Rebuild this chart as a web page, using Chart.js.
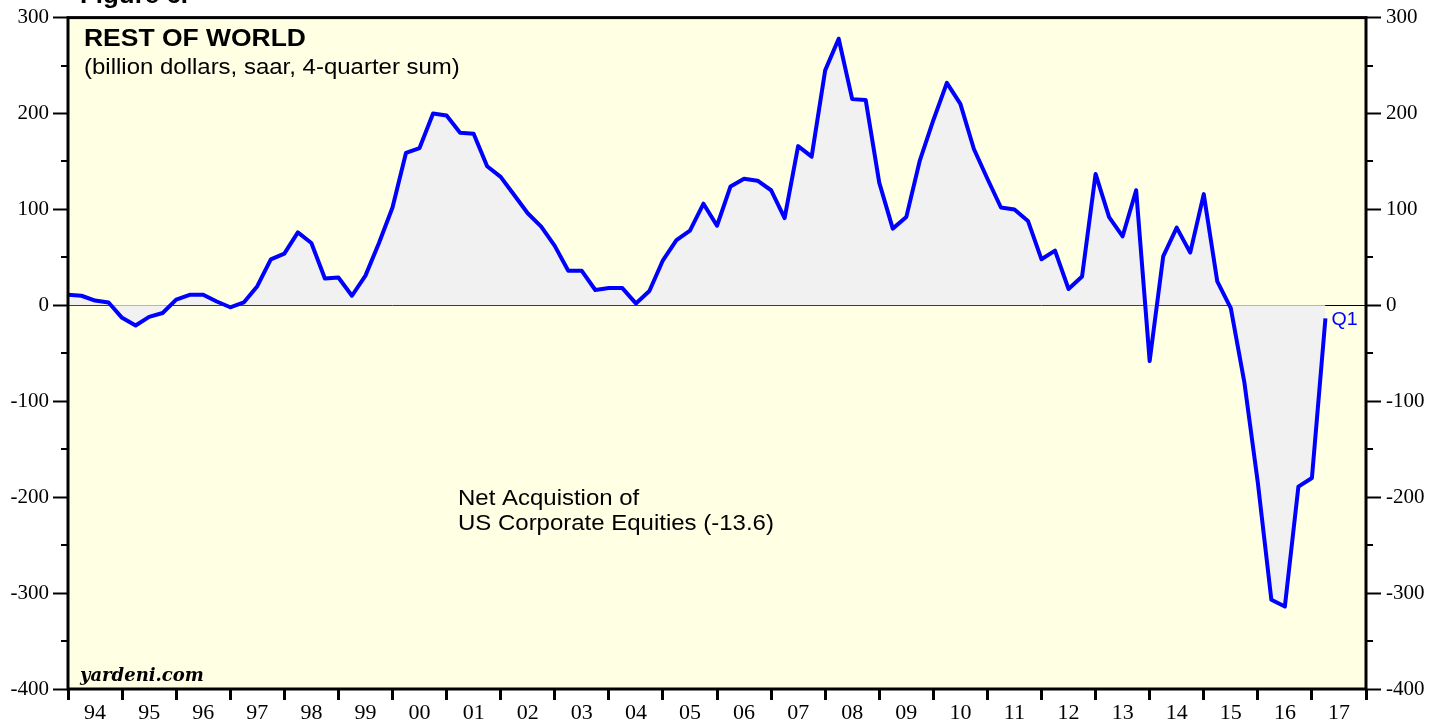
<!DOCTYPE html>
<html>
<head>
<meta charset="utf-8">
<script src="https://cdn.jsdelivr.net/npm/chart.js@4/dist/chart.umd.min.js"></script>
<style>
  body { margin: 0; background: #fff; }
  #wrap { width: 1442px; height: 721px; }
</style>
</head>
<body>
<div id="wrap"><canvas id="chart-row" width="1442" height="721"></canvas></div>
<script>
// quarterly, 4-quarter sum, billion $ saar; first value is 93Q4, last is 17Q1
const row_values = [
    11,
    10, 5, 3, -13,
    -21, -12, -8, 6,
    11, 11, 4, -2,
    3, 20, 48, 54,
    76, 65, 28, 29,
    10, 31, 65, 102,
    159, 164, 200, 198,
    180, 179, 145, 134,
    115, 96, 82, 62,
    36, 36, 16, 18,
    18, 2, 15, 47,
    68, 78, 106, 83,
    124, 132, 130, 120,
    91, 166, 155, 245,
    278, 215, 214, 128,
    80, 92, 151, 193,
    232, 210, 163, 132,
    102, 100, 88, 48,
    57, 17, 30, 137,
    92, 72, 120, -58,
    51, 81, 55, 116,
    25, -3, -80, -185,
    -307, -314, -189, -180,
    -13.6
]
const first_year = 1994
const year_labels = ['94', '95', '96', '97', '98', '99', '00', '01', '02', '03', '04', '05',
    '06', '07', '08', '09', '10', '11', '12', '13', '14', '15', '16', '17']
const y_min = -400
const y_max = 300

const points = row_values.map((v, i) => ({ x: first_year + i / 4, y: v }))

function wideText(ctx, text, x, y, font, color, sx) {
    ctx.save()
    ctx.font = font
    ctx.fillStyle = color
    ctx.textBaseline = 'alphabetic'
    ctx.textAlign = 'left'
    ctx.translate(x, y)
    ctx.scale(sx, 1)
    ctx.fillText(text, 0, 0)
    ctx.restore()
}

const frame_plugin = {
    id: 'frame',
    beforeDraw(chart) {
        const a = chart.chartArea
        const ctx = chart.ctx
        ctx.save()
        ctx.fillStyle = '#FFFFE4'
        ctx.fillRect(a.left, a.top, a.right - a.left, a.bottom - a.top)
        ctx.restore()
    },
    afterDraw(chart) {
        const a = chart.chartArea
        const ctx = chart.ctx
        const y = chart.scales.y
        ctx.save()
        ctx.strokeStyle = '#000'
        ctx.lineWidth = 3
        ctx.strokeRect(a.left, a.top, a.right - a.left, a.bottom - a.top)
        // minor ticks every 50
        ctx.lineWidth = 2
        ctx.beginPath()
        for (let v = y_min + 50; v < y_max; v += 100) {
            const py = Math.round(y.getPixelForValue(v))
            ctx.moveTo(a.left - 7, py)
            ctx.lineTo(a.left, py)
            ctx.moveTo(a.right, py)
            ctx.lineTo(a.right + 7, py)
        }
        ctx.stroke()
        ctx.restore()

        wideText(ctx, 'Figure 6.', 80, 3, 'bold 24px "Liberation Sans"', '#000', 1.08)
        wideText(ctx, 'REST OF WORLD', 84, 46, 'bold 24.5px "Liberation Sans"', '#000', 1.08)
        wideText(ctx, '(billion dollars, saar, 4-quarter sum)', 84, 74, '22px "Liberation Sans"', '#000', 1.09)
        wideText(ctx, 'Net Acquistion of', 458, 505, '22px "Liberation Sans"', '#000', 1.09)
        wideText(ctx, 'US Corporate Equities (-13.6)', 458, 530, '22px "Liberation Sans"', '#000', 1.09)
        wideText(ctx, 'yardeni.com', 80, 681, 'bold italic 18px "DejaVu Serif"', '#000', 1.0)

        const last = chart.getDatasetMeta(0).data[row_values.length - 1]
        wideText(ctx, 'Q1', last.x + 6, 325, '18.5px "Liberation Sans"', '#0000FF', 1.06)
    }
}

const tick_font = { family: '"Liberation Serif"', size: 21 }

const ctx_row = document.getElementById('chart-row')
const chart_row = new Chart(ctx_row, {
    type: 'line',
    data: {
        datasets: [{
            label: 'Net Acquisition of US Corporate Equities',
            data: points,
            borderColor: '#0000FF',
            borderWidth: 4,
            borderJoinStyle: 'round',
            backgroundColor: '#F1F1F1',
            fill: { target: { value: 0 } },
            pointRadius: 0,
            tension: 0
        }]
    },
    options: {
        responsive: false,
        animation: false,
        layout: { padding: { top: 17, left: 0, right: 0, bottom: 0 } },
        plugins: {
            legend: { display: false },
            tooltip: { enabled: false },
            title: { display: false }
        },
        scales: {
            x: {
                type: 'linear',
                min: first_year,
                max: first_year + year_labels.length,
                afterBuildTicks: (scale) => {
                    const t = []
                    for (let i = 0; i <= year_labels.length; i++) {
                        t.push({ value: first_year + i })
                        if (i < year_labels.length) t.push({ value: first_year + i + 0.5 })
                    }
                    scale.ticks = t
                },
                afterFit: (scale) => { scale.height = 32 },
                ticks: {
                    autoSkip: false,
                    maxRotation: 0,
                    padding: 0,
                    color: '#000',
                    font: { family: '"Liberation Serif"', size: 22 },
                    callback: (v) => {
                        const i = v - first_year - 0.5
                        return Number.isInteger(i) ? year_labels[i] : ''
                    }
                },
                grid: {
                    drawOnChartArea: false,
                    tickLength: 11,
                    tickWidth: 3,
                    tickColor: (c) => Number.isInteger(c.tick.value) ? '#000' : 'rgba(0,0,0,0)'
                },
                border: { display: false }
            },
            y: {
                position: 'left',
                min: y_min,
                max: y_max,
                afterFit: (scale) => { scale.width = 68 },
                ticks: {
                    stepSize: 100,
                    padding: 4,
                    color: '#000',
                    font: tick_font
                },
                grid: {
                    drawOnChartArea: true,
                    color: (c) => c.tick.value === 0 ? '#000' : 'rgba(0,0,0,0)',
                    lineWidth: 1,
                    tickLength: 15,
                    tickWidth: 2,
                    tickColor: '#000'
                },
                border: { display: false }
            },
            y2: {
                position: 'right',
                min: y_min,
                max: y_max,
                afterFit: (scale) => { scale.width = 76 },
                ticks: {
                    stepSize: 100,
                    padding: 5,
                    color: '#000',
                    font: tick_font
                },
                grid: {
                    drawOnChartArea: false,
                    tickLength: 15,
                    tickWidth: 2,
                    tickColor: '#000'
                },
                border: { display: false }
            }
        }
    },
    plugins: [frame_plugin]
})
</script>
</body>
</html>
